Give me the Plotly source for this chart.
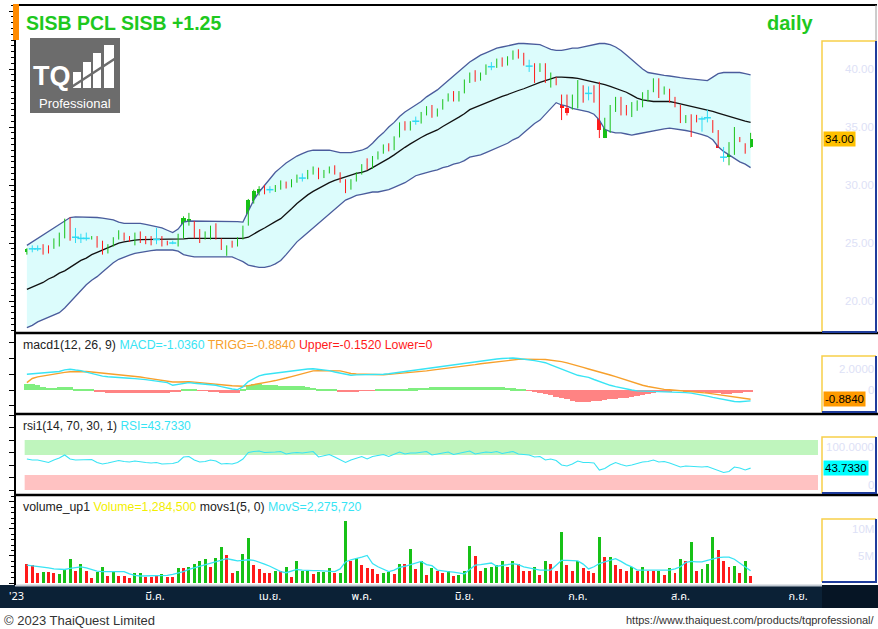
import plotly.graph_objects as go

W, H = 878, 629

# ---------------- data ----------------
open_ = [
    24.2, 24.5, 24.5, 24.6, 24.6, 24.6, 24.8, 25.5, 26.7, 25.5,
    25.4, 25.4, 25.3, 25.5, 25.1, 24.2, 24.8, 25.4, 25.8, 25.5,
    24.9, 25.9, 25.5, 25.5, 25.3, 25.5, 25.1, 25.0, 24.8, 25.5,
    26.6, 26.8, 26.1, 25.4, 25.4, 26.6, 25.3, 24.2, 25.0, 24.8,
    25.4, 26.6, 28.6, 29.3, 29.8, 29.6, 29.5, 29.8, 30.2, 29.9,
    30.3, 30.6, 30.6, 31.0, 31.4, 30.7, 31.1, 31.5, 31.0, 30.4,
    29.7, 30.4, 31.0, 32.0, 31.5, 32.3, 32.8, 33.5, 33.1, 34.2,
    35.3, 34.8, 35.5, 35.4, 36.1, 36.7, 36.0, 36.6, 37.3, 37.9,
    37.3, 38.0, 38.9, 39.7, 39.1, 39.6, 40.2, 40.2, 40.8, 40.4,
    40.9, 41.5, 41.2, 40.25, 40.3, 39.9, 39.9, 38.9, 39.3, 37.8,
    36.6, 36.6, 37.1, 38.6, 37.9, 38.0, 38.9, 34.05, 34.7, 36.3,
    37.5, 36.9, 36.0, 36.5, 36.8, 37.9, 38.0, 38.8, 37.9, 38.2,
    37.6, 36.9, 35.4, 36.0, 36.0, 35.7, 35.8, 35.6, 34.14, 32.4,
    32.4, 32.6, 34.14, 33.6, 33.3]
high_ = [
    24.55, 24.8, 24.8, 24.9, 24.8, 25.4, 25.9, 27.1, 27.2, 26.3,
    25.8, 25.9, 25.6, 25.6, 25.2, 24.9, 25.5, 26.1, 25.9, 25.6,
    25.9, 26.0, 25.6, 25.6, 26.3, 25.6, 25.2, 25.2, 25.8, 27.3,
    27.6, 26.9, 26.2, 26.0, 26.5, 26.7, 25.4, 24.8, 25.2, 25.5,
    26.5, 28.8, 29.6, 29.9, 30.0, 29.9, 30.0, 30.4, 30.3, 30.5,
    30.9, 31.0, 31.3, 31.6, 31.5, 31.3, 31.6, 31.7, 31.1, 30.5,
    30.5, 31.1, 31.8, 32.3, 32.5, 32.9, 33.5, 33.6, 34.2, 35.4,
    35.5, 35.5, 35.9, 36.3, 36.8, 36.9, 36.6, 37.4, 37.9, 38.1,
    38.1, 39.1, 39.7, 39.9, 39.7, 40.4, 40.6, 40.9, 41.0, 41.1,
    41.6, 41.7, 41.4, 40.8, 40.5, 40.5, 40.5, 39.7, 39.3, 37.8,
    37.8, 37.8, 39.05, 38.6, 38.5, 38.6, 38.9, 35.8, 36.9, 37.6,
    37.6, 36.9, 37.15, 37.3, 38.0, 38.2, 39.2, 39.2, 38.5, 38.3,
    37.6, 36.9, 36.03, 36.1, 36.05, 35.9, 36.5, 35.6, 34.74, 33.28,
    33.7, 35.0, 34.14, 33.6, 34.5]
low_ = [
    24.0, 24.2, 24.3, 24.0, 24.1, 24.5, 24.7, 25.4, 25.2, 25.0,
    25.0, 25.2, 25.3, 24.6, 24.0, 24.1, 24.7, 25.3, 25.2, 25.1,
    24.8, 25.0, 24.9, 24.8, 24.9, 24.7, 24.8, 24.9, 24.7, 25.4,
    26.5, 25.4, 25.0, 25.3, 25.3, 25.3, 24.4, 23.9, 24.6, 24.7,
    25.3, 26.5, 28.4, 29.1, 29.2, 29.3, 29.4, 29.6, 29.7, 29.8,
    30.2, 30.3, 30.5, 30.9, 30.5, 30.6, 31.0, 30.9, 30.2, 29.3,
    29.6, 30.3, 30.9, 31.3, 31.4, 32.2, 32.7, 32.9, 33.0, 34.1,
    34.7, 34.7, 35.2, 35.3, 36.0, 35.8, 35.9, 36.5, 37.2, 37.2,
    37.2, 37.9, 38.8, 38.9, 39.0, 39.5, 39.9, 40.1, 40.2, 40.3,
    40.8, 40.9, 40.3, 39.75, 38.8, 39.75, 38.8, 38.4, 38.6, 35.6,
    36.0, 36.5, 36.6, 37.1, 37.3, 37.1, 34.05, 34.05, 34.5, 36.3,
    36.0, 36.0, 35.86, 36.4, 36.7, 37.2, 38.0, 37.5, 37.8, 37.1,
    36.7, 35.34, 35.34, 34.14, 35.4, 34.6, 35.4, 34.5, 33.2, 32.0,
    31.7, 32.6, 33.7, 32.7, 33.2]
close_ = [
    24.5, 24.5, 24.5, 24.2, 24.1, 25.3, 25.7, 26.7, 25.5, 25.5,
    25.4, 25.4, 25.5, 24.7, 24.2, 24.8, 25.4, 25.9, 25.6, 25.3,
    25.6, 25.6, 25.0, 24.9, 25.3, 24.8, 24.9, 25.0, 25.7, 27.2,
    27.1, 25.5, 25.1, 25.9, 26.4, 25.4, 24.4, 24.6, 24.7, 25.4,
    26.4, 28.7, 29.5, 29.7, 29.5, 29.6, 29.9, 30.3, 29.8, 30.4,
    30.8, 30.6, 31.2, 31.5, 30.6, 31.2, 31.5, 31.0, 30.3, 29.6,
    30.4, 31.0, 31.7, 31.4, 32.4, 32.8, 33.4, 33.0, 34.1, 35.3,
    34.8, 35.4, 35.5, 36.2, 36.7, 35.9, 36.5, 37.3, 37.8, 37.3,
    38.0, 39.0, 39.6, 39.0, 39.6, 40.3, 40.2, 40.8, 40.3, 41.0,
    41.5, 41.0, 40.6, 40.25, 39.5, 40.3, 38.8, 39.5, 38.6, 36.6,
    36.2, 37.3, 38.8, 37.9, 37.9, 37.8, 34.75, 34.9, 36.7, 37.6,
    36.3, 36.0, 36.6, 37.15, 37.9, 38.0, 39.05, 38.0, 38.3, 37.6,
    36.7, 35.6, 35.9, 35.8, 35.5, 35.7, 35.8, 34.57, 33.2, 32.4,
    32.76, 34.9, 33.7, 32.75, 34.0]

bb_upper = [
    24.8, 25.1, 25.4, 25.7, 26.0, 26.3, 26.6, 26.9, 27.2, 27.25,
    27.25, 27.2, 27.2, 27.2, 27.15, 27.1, 27.0, 26.8, 26.7, 26.7,
    26.7, 26.7, 26.6, 26.5, 26.4, 26.3, 26.1, 25.9, 26.2, 26.8,
    26.9, 26.9, 26.9, 26.9, 26.9, 26.9, 26.9, 26.9, 26.9, 26.85,
    26.8, 27.8, 28.7, 29.4, 30.0, 30.6, 31.1, 31.5, 31.9, 32.2,
    32.5, 32.7, 32.9, 33.0, 33.0, 33.0, 33.0, 32.9, 32.8, 32.8,
    32.8, 32.9, 33.0, 33.2, 33.6, 34.1, 34.5, 35.0, 35.4, 35.9,
    36.3, 36.6, 36.9, 37.2, 37.6, 37.9, 38.2, 38.6, 39.0, 39.4,
    39.8, 40.2, 40.6, 40.9, 41.2, 41.4, 41.6, 41.8, 41.9, 42.0,
    42.1, 42.2, 42.2, 42.15, 42.1, 42.1, 41.9, 41.7, 41.6, 41.6,
    41.7, 41.8, 41.8, 41.9, 42.0, 42.15, 42.2, 42.2, 42.1, 41.9,
    41.6, 41.2, 40.8, 40.4, 40.0, 39.7, 39.6, 39.5, 39.45, 39.4,
    39.3, 39.25, 39.2, 39.15, 39.1, 39.05, 39.0, 39.3, 39.6, 39.7,
    39.7, 39.7, 39.7, 39.6, 39.5]
bb_mid = [
    21.0, 21.2, 21.4, 21.6, 21.9, 22.1, 22.4, 22.6, 22.9, 23.2,
    23.5, 23.7, 24.0, 24.2, 24.4, 24.6, 24.8, 25.0, 25.1, 25.2,
    25.25, 25.3, 25.3, 25.3, 25.3, 25.3, 25.3, 25.3, 25.3, 25.35,
    25.4, 25.4, 25.4, 25.4, 25.4, 25.4, 25.4, 25.4, 25.4, 25.4,
    25.4, 25.5, 25.8, 26.05, 26.3, 26.6, 26.85, 27.1, 27.5, 27.95,
    28.4, 28.8, 29.15, 29.45, 29.7, 30.0, 30.2, 30.4, 30.55, 30.75,
    30.85, 31.0, 31.1, 31.25, 31.5, 31.75, 32.0, 32.3, 32.6, 32.95,
    33.25, 33.55, 33.85, 34.1, 34.35, 34.55, 34.75, 35.05, 35.3, 35.6,
    35.85, 36.15, 36.5, 36.7, 36.9, 37.1, 37.3, 37.5, 37.65, 37.8,
    38.0, 38.15, 38.3, 38.5, 38.7, 38.85, 39.0, 39.15, 39.3, 39.3,
    39.3, 39.25, 39.2, 39.1, 39.0, 38.9, 38.8, 38.65, 38.5, 38.35,
    38.2, 38.0, 37.75, 37.5, 37.35, 37.25, 37.2, 37.2, 37.2, 37.2,
    37.1, 37.0, 36.9, 36.8, 36.7, 36.6, 36.5, 36.35, 36.2, 36.05,
    35.9, 35.8, 35.65, 35.5, 35.4]
bb_lower = [
    17.7, 17.9, 18.2, 18.4, 18.6, 18.8, 19.0, 19.4, 19.9, 20.4,
    20.9, 21.4, 21.8, 22.1, 22.5, 22.9, 23.3, 23.6, 23.8, 23.95,
    24.1, 24.2, 24.3, 24.35, 24.4, 24.4, 24.4, 24.4, 24.3, 24.0,
    23.9, 23.8, 23.8, 23.8, 23.8, 23.8, 23.8, 23.8, 23.8, 23.6,
    23.4, 23.1, 23.0, 22.9, 22.9, 23.0, 23.2, 23.5, 24.0, 24.6,
    25.1, 25.5, 25.9, 26.3, 26.7, 27.1, 27.5, 27.9, 28.3, 28.7,
    28.9, 29.1, 29.2, 29.3, 29.4, 29.4, 29.5, 29.6, 29.8, 30.0,
    30.2, 30.5, 30.8, 30.95, 31.1, 31.2, 31.3, 31.5, 31.6, 31.8,
    31.9, 32.1, 32.4, 32.5, 32.6, 32.8, 33.0, 33.2, 33.4, 33.6,
    33.9, 34.1, 34.5, 34.9, 35.3, 35.6, 36.1, 36.6, 37.1, 36.9,
    36.8, 36.6, 36.5, 36.4, 36.3, 36.1, 35.6, 34.8, 34.6, 34.5,
    34.5, 34.4, 34.3, 34.4, 34.5, 34.6, 34.7, 34.8, 34.85, 34.9,
    34.85, 34.8, 34.7, 34.6, 34.5, 34.35, 34.2, 33.9, 33.3, 32.9,
    32.6, 32.3, 32.0, 31.8, 31.5]

macd = [
    1.50, 1.54, 1.58, 1.62, 1.67, 1.72, 1.76, 1.92, 1.98, 1.90,
    1.85, 1.70, 1.55, 1.40, 1.32, 1.26, 1.21, 1.18, 1.15, 1.12,
    1.08, 1.06, 0.99, 0.92, 0.85, 0.77, 0.70, 0.45, 0.55, 0.66,
    0.70, 0.64, 0.60, 0.58, 0.55, 0.45, 0.32, 0.20, 0.10, 0.04,
    0.30, 0.80, 1.10, 1.35, 1.48, 1.55, 1.60, 1.66, 1.72, 1.78,
    1.84, 1.92, 2.00, 2.03, 1.98, 1.92, 1.85, 1.72, 1.62, 1.45,
    1.40, 1.44, 1.45, 1.44, 1.43, 1.46, 1.50, 1.55, 1.62, 1.69,
    1.76, 1.83, 1.90, 1.98, 2.06, 2.15, 2.24, 2.30, 2.37, 2.44,
    2.50, 2.58, 2.65, 2.72, 2.80, 2.85, 2.90, 2.95, 3.00, 3.03,
    3.05, 3.00, 2.95, 2.90, 2.80, 2.70, 2.60, 2.40, 2.20, 2.00,
    1.80, 1.60, 1.40, 1.30, 1.20, 1.00, 0.80, 0.60, 0.45, 0.32,
    0.20, 0.10, 0.00, -0.08, -0.10, -0.10, -0.08, -0.10, -0.12, -0.15,
    -0.18, -0.20, -0.25, -0.30, -0.38, -0.45, -0.58, -0.70, -0.80, -0.90,
    -1.00, -1.10, -1.12, -1.08, -1.036]
trigg = [
    0.70, 1.10, 1.25, 1.35, 1.44, 1.52, 1.60, 1.68, 1.74, 1.76,
    1.76, 1.76, 1.72, 1.67, 1.62, 1.58, 1.55, 1.49, 1.43, 1.36,
    1.30, 1.24, 1.16, 1.08, 1.00, 0.92, 0.84, 0.76, 0.77, 0.79,
    0.78, 0.75, 0.71, 0.68, 0.64, 0.58, 0.52, 0.46, 0.40, 0.35,
    0.36, 0.42, 0.50, 0.60, 0.70, 0.80, 0.90, 1.00, 1.14, 1.28,
    1.42, 1.56, 1.70, 1.82, 1.85, 1.85, 1.84, 1.83, 1.82, 1.70,
    1.57, 1.53, 1.50, 1.48, 1.47, 1.46, 1.45, 1.49, 1.53, 1.57,
    1.61, 1.65, 1.70, 1.76, 1.82, 1.89, 1.95, 2.00, 2.06, 2.12,
    2.20, 2.28, 2.35, 2.42, 2.50, 2.56, 2.62, 2.69, 2.75, 2.83,
    2.90, 2.92, 2.94, 2.95, 2.94, 2.92, 2.90, 2.84, 2.77, 2.70,
    2.58, 2.46, 2.30, 2.15, 2.00, 1.87, 1.73, 1.60, 1.43, 1.27,
    1.10, 0.93, 0.76, 0.58, 0.45, 0.33, 0.22, 0.10, 0.06, 0.02,
    -0.02, -0.05, -0.09, -0.13, -0.18, -0.22, -0.30, -0.37, -0.45, -0.53,
    -0.62, -0.70, -0.76, -0.82, -0.884]
macd_hist = [
    0.55, 0.55, 0.50, 0.25, 0.22, 0.20, 0.25, 0.27, 0.25, 0.12,
    0.08, 0.03, 0.02, -0.12, -0.20, -0.25, -0.28, -0.30, -0.30, -0.30,
    -0.28, -0.28, -0.28, -0.27, -0.27, -0.26, -0.25, -0.22, -0.10, 0.03,
    0.03, 0.03, -0.05, -0.05, -0.15, -0.22, -0.28, -0.30, -0.30, -0.28,
    0.10, 0.50, 0.55, 0.55, 0.50, 0.48, 0.45, 0.42, 0.40, 0.40,
    0.38, 0.35, 0.30, 0.22, 0.05, 0.04, 0.03, 0.02, -0.12, -0.18,
    -0.15, -0.10, -0.05, -0.05, -0.04, 0.02, 0.05, 0.08, 0.10, 0.12,
    0.14, 0.16, 0.18, 0.20, 0.22, 0.24, 0.26, 0.28, 0.30, 0.30,
    0.30, 0.30, 0.30, 0.29, 0.28, 0.27, 0.26, 0.25, 0.24, 0.20,
    0.15, 0.08, 0.01, -0.05, -0.15, -0.25, -0.35, -0.50, -0.65, -0.80,
    -0.90, -1.00, -1.10, -1.10, -1.10, -1.05, -1.00, -0.95, -0.90, -0.85,
    -0.80, -0.75, -0.70, -0.60, -0.50, -0.40, -0.30, -0.20, -0.15, -0.10,
    -0.05, -0.08, -0.12, -0.15, -0.18, -0.20, -0.25, -0.30, -0.30, -0.35,
    -0.35, -0.30, -0.25, -0.20, -0.152]

rsi = [
    62, 60, 60, 57, 55, 60, 64, 70, 62, 60,
    60, 60, 61, 55, 52, 54, 57, 59, 57, 56,
    58, 56, 55, 54, 55, 52, 52, 53, 56, 66,
    67, 60, 56, 57, 60, 58, 52, 53, 52, 55,
    62, 75, 77, 78, 75, 75, 76, 77, 72, 74,
    75, 74, 76, 77, 66, 69, 71, 66, 61, 55,
    60, 64, 67, 62, 67, 69, 71, 67, 72, 76,
    72, 74, 74, 76, 77, 70, 72, 74, 76, 71,
    73, 76, 78, 72, 74, 76, 75, 77, 73, 75,
    77, 72, 71, 70, 66, 67, 60, 62, 59, 50,
    48, 52, 58, 55, 55, 54, 40, 43, 50, 55,
    51, 48, 50, 53, 56, 57, 60, 56, 57, 54,
    50, 46, 48, 47, 46, 46, 47, 43, 38, 35,
    37, 46, 44, 40, 43.733]
rsi_levels = [70, 30]

volume_m = [
    3.5, 3.3, 1.8, 2.0, 2.0, 1.9, 1.7, 2.5, 4.4, 2.3,
    3.5, 2.3, 0.9, 2.1, 3.0, 1.3, 2.0, 1.3, 1.3, 0.9,
    1.8, 1.8, 1.1, 1.1, 1.3, 1.6, 1.1, 1.1, 2.8, 2.8,
    2.9, 3.5, 4.0, 4.4, 3.0, 4.7, 6.6, 5.2, 1.8, 2.3,
    5.4, 8.3, 3.3, 2.5, 1.8, 1.8, 2.3, 2.3, 3.0, 1.1,
    4.0, 2.3, 2.3, 1.6, 2.0, 2.0, 2.8, 1.8, 1.8, 11.4,
    4.0, 4.6, 3.3, 2.8, 2.5, 1.6, 1.8, 2.0, 1.6, 3.5,
    3.5, 6.3, 2.5, 4.0, 1.5, 2.8, 2.2, 1.9, 2.3, 1.3,
    1.5, 2.3, 6.85, 5.0, 2.3, 2.8, 3.0, 3.3, 4.0, 3.0,
    4.0, 3.6, 2.3, 2.3, 2.9, 1.5, 4.0, 3.6, 2.2, 9.5,
    3.3, 2.3, 4.0, 2.8, 2.3, 1.8, 8.6, 4.9, 4.9, 3.3,
    2.5, 2.2, 2.9, 2.2, 3.0, 2.3, 2.3, 2.3, 1.5, 2.8,
    1.8, 4.5, 4.0, 7.5, 2.2, 2.5, 3.5, 8.6, 6.2, 4.0,
    3.0, 3.1, 1.8, 4.0, 1.2845]
volume_dir = ("rrrgrrgggr" "grrggrgrrr" "ggrrrgrrgr" "ggggrggrrg" "ggrrrrgrgr"
              "gggrgggrgg" "rgrrrrggrg" "rgrgrgrrgr" "gggrrggggr" "grrrgrgrrg"
              "rrgrrrgrgr" "rrgrgrrgrg" "rgrgrgggrr" "rgrgr")
movs_m = [
    3.3, 3.2, 3.1, 3.0, 2.8, 2.6, 2.5, 2.5, 2.7, 2.9,
    3.0, 2.8, 2.5, 2.2, 2.1, 2.1, 2.1, 2.1, 2.1, 1.7,
    1.4, 1.3, 1.3, 1.3, 1.3, 1.3, 1.4, 1.6, 1.8, 2.1,
    2.5, 2.8, 3.0, 3.4, 3.7, 3.9, 4.2, 4.5, 4.3, 4.1,
    4.2, 4.3, 4.2, 3.9, 3.5, 3.1, 2.6, 2.1, 1.9, 2.2,
    2.5, 2.4, 2.3, 2.3, 2.3, 2.2, 2.1, 2.1, 2.6, 3.9,
    4.3, 4.5, 4.8, 5.1, 3.6, 3.0, 2.5, 2.1, 2.4, 2.9,
    3.1, 3.4, 3.8, 4.0, 3.4, 3.2, 2.4, 2.2, 2.1, 2.0,
    1.9, 1.7, 2.5, 3.3, 3.4, 3.5, 3.7, 3.1, 3.2, 3.4,
    3.6, 3.4, 3.0, 2.8, 2.6, 2.4, 2.4, 2.4, 3.3, 4.2,
    4.2, 4.1, 4.1, 3.5, 2.6, 3.0, 3.6, 3.9, 4.2, 4.5,
    4.0, 3.4, 3.0, 2.4, 2.4, 2.4, 2.4, 2.4, 2.4, 2.4,
    2.6, 3.0, 3.8, 4.0, 3.9, 3.9, 4.2, 4.5, 4.7, 4.8,
    4.8, 4.4, 3.7, 3.0, 2.27572]

month_pos = [-1.9, 23.7, 45, 62, 81, 102, 121, 142.8]
month_labels = ["'23", "มี.ค.", "เม.ย.", "พ.ค.", "มิ.ย.", "ก.ค.", "ส.ค.", "ก.ย."]
price_ticks = [20, 25, 30, 35, 40]
macd_ticks = [0, 2]
rsi_ticks = [100, 0]
vol_ticks = [5, 10]

# ---------------- style ----------------
SANS = "Liberation Sans, Arial, sans-serif"
THAI = "Noto Sans Thai, Tahoma, Liberation Sans, sans-serif"
GREEN, RED, CYAN = "#17c117", "#ff1a1a", "#2fdcf4"
BANDC = "#4a5c9c"
LAV = "#dde1f6"


def px_x(x):
    return x / W


def px_y(y):
    return 1 - y / H


def dom(top, bottom):
    return [1 - bottom / H, 1 - top / H]


N = len(close_)
idx = list(range(N))
fig = go.Figure()

# ---- main panel: Bollinger + candles ----
fig.add_trace(go.Scatter(x=idx, y=bb_lower, mode="lines", line=dict(color=BANDC, width=1.3),
                         xaxis="x", yaxis="y", hoverinfo="skip"))
fig.add_trace(go.Scatter(x=idx, y=bb_upper, mode="lines", line=dict(color=BANDC, width=1.3),
                         fill="tonexty", fillcolor="#dcfcfc", xaxis="x", yaxis="y", hoverinfo="skip"))
fig.add_trace(go.Scatter(x=idx, y=bb_mid, mode="lines", line=dict(color="#111111", width=1.3),
                         xaxis="x", yaxis="y", hoverinfo="skip"))

up = [i for i in idx if close_[i] > open_[i]]
dn = [i for i in idx if close_[i] < open_[i]]
dj = [i for i in idx if close_[i] == open_[i]]

for ids, col in [(up, GREEN), (dn, RED), (dj, CYAN)]:
    xs, ys = [], []
    for i in ids:
        xs += [i, i, None]
        ys += [low_[i], high_[i], None]
    fig.add_trace(go.Scatter(x=xs, y=ys, mode="lines", line=dict(color=col, width=1),
                             xaxis="x", yaxis="y", hoverinfo="skip"))
for ids, col in [(up, GREEN), (dn, RED)]:
    fig.add_trace(go.Bar(x=ids, y=[abs(close_[i] - open_[i]) for i in ids],
                         base=[min(open_[i], close_[i]) for i in ids], width=0.75,
                         marker=dict(color=col, line=dict(width=0)), xaxis="x", yaxis="y",
                         hoverinfo="skip"))
fig.add_trace(go.Scatter(x=dj, y=[close_[i] for i in dj], mode="markers",
                         marker=dict(symbol="line-ew", size=5, line=dict(color=CYAN, width=1.5)),
                         xaxis="x", yaxis="y", hoverinfo="skip"))

# ---- MACD panel ----
fig.add_trace(go.Bar(x=idx, y=macd_hist, width=1.0,
                     marker=dict(color=["#80ee80" if v >= 0 else "#ff8383" for v in macd_hist],
                                 line=dict(width=0)),
                     xaxis="x2", yaxis="y2", hoverinfo="skip"))
fig.add_trace(go.Scatter(x=idx, y=trigg, mode="lines", line=dict(color="#f7a02c", width=1.4),
                         xaxis="x2", yaxis="y2", hoverinfo="skip"))
fig.add_trace(go.Scatter(x=idx, y=macd, mode="lines", line=dict(color="#38e4f4", width=1.4),
                         xaxis="x2", yaxis="y2", hoverinfo="skip"))

# ---- RSI panel ----
fig.add_trace(go.Scatter(x=idx, y=rsi, mode="lines", line=dict(color="#38e4f4", width=1.1),
                         xaxis="x3", yaxis="y3", hoverinfo="skip"))

# ---- Volume panel ----
fig.add_trace(go.Bar(x=idx, y=volume_m, width=0.55,
                     marker=dict(color=[GREEN if c == "g" else RED for c in volume_dir],
                                 line=dict(width=0)),
                     xaxis="x4", yaxis="y4", hoverinfo="skip"))
fig.add_trace(go.Scatter(x=idx, y=movs_m, mode="lines", line=dict(color="#38e4f4", width=1.3),
                         xaxis="x4", yaxis="y4", hoverinfo="skip"))

# ---------------- axes ----------------
XD = [px_x(15), px_x(820)]
XR = [-2.2, 146.85]
xbase = dict(domain=XD, showgrid=False, zeroline=False, showline=False, ticks="",
             showticklabels=False)
panels = {
    "": dict(dom=dom(5, 332), rng=[17.33, 45.52], dt=5, mdt=0.5, top=42.6),
    "2": dict(dom=dom(335, 413), rng=[-2.19, 5.24], dt=1.5, mdt=None, top=3.2),
    "3": dict(dom=dom(415, 494), rng=[-8, 150], dt=25, mdt=None, top=104),
    "4": dict(dom=dom(496, 585), rng=[-0.37, 16.1], dt=5, mdt=1, top=11.8),
}
layout = dict(width=W, height=H, margin=dict(l=0, r=0, t=0, b=0), template="none",
              paper_bgcolor="white", plot_bgcolor="white", showlegend=False, barmode="overlay",
              bargap=0)
layout["xaxis"] = dict(xbase, range=XR, anchor="y")
layout["xaxis2"] = dict(xbase, matches="x", anchor="y2")
layout["xaxis3"] = dict(xbase, matches="x", anchor="y3")
layout["xaxis4"] = dict(xbase, matches="x", anchor="y4", showticklabels=True,
                        tickmode="array", tickvals=month_pos, ticktext=month_labels,
                        tickfont=dict(color="white", size=11, family=THAI), ticklabelstandoff=3)
over_ids = {"": "5", "2": "6", "3": "7", "4": "8"}
for k, p in panels.items():
    left = dict(domain=p["dom"], range=p["rng"], anchor="x" + k, side="left",
                showgrid=False, zeroline=False, showline=False, showticklabels=False,
                ticks="outside", ticklen=5, tickcolor="black", tick0=0, dtick=p["dt"])
    if p["mdt"]:
        left["minor"] = dict(ticks="outside", ticklen=3, tickcolor="black", dtick=p["mdt"], tick0=0)
    layout["yaxis" + k] = left
    lo = p["rng"][0]
    step = p["mdt"] if p["mdt"] else p["dt"] / 3
    vals = []
    v = 0.0
    while v > lo:
        v -= step
    while v <= p["top"]:
        if v >= lo:
            vals.append(round(v, 4))
        v += step
    layout["yaxis" + over_ids[k]] = dict(domain=p["dom"], range=p["rng"], anchor="x" + k,
                                         overlaying="y" + k, side="right", showgrid=False,
                                         zeroline=False, showline=False, showticklabels=False,
                                         ticks="inside", ticklen=3, tickcolor="#333333",
                                         tickmode="array", tickvals=vals)
fig.update_layout(**layout)

# ---------------- shapes ----------------
shapes = []


def line(x0, y0, x1, y1, color, width, layer="above"):
    shapes.append(dict(type="line", xref="paper", yref="paper", x0=px_x(x0), y0=px_y(y0),
                       x1=px_x(x1), y1=px_y(y1), line=dict(color=color, width=width), layer=layer))


def rect(x0, y0, x1, y1, fill, layer="above"):
    shapes.append(dict(type="rect", xref="paper", yref="paper", x0=px_x(x0), y0=px_y(y0),
                       x1=px_x(x1), y1=px_y(y1), fillcolor=fill, line=dict(width=0), layer=layer))


# RSI zones
for lv, col in [(rsi_levels[0], "#bff5bd"), (rsi_levels[1], "#ffc2c2")]:
    y0, y1 = (lv, 100) if lv >= 50 else (0, lv)
    shapes.append(dict(type="rect", xref="x3 domain", yref="y3", x0=0.012, x1=0.9975, y0=y0, y1=y1,
                       fillcolor=col, line=dict(width=0), layer="below"))

# date band (below so that tick labels show on top)
rect(0, 585, 878, 608, "#0b2136", layer="below")
rect(822, 585, 878, 608, "#061525", layer="below")
line(15, 585.5, 822, 585.5, "#c3cbd3", 2)
# frame
line(15, 5, 877, 5, "black", 2)
line(15, 40, 15, 585, "black", 2)
rect(13, 4, 19, 40, "#ff8a00")
for y in (333, 414, 495):
    line(15, y, 878, y, "black", 2.5)
line(876, 5, 876, 41, "#9a9a9a", 1)
# right value boxes
for top, bottom in [(41, 332), (356, 412), (437, 493), (519, 582)]:
    shapes.append(dict(type="path", xref="paper", yref="paper",
                       path=f"M {px_x(822)},{px_y(bottom)} L {px_x(822)},{px_y(top)} L {px_x(876)},{px_y(top)}",
                       line=dict(color="#f8cf4a", width=1.5)))
    shapes.append(dict(type="path", xref="paper", yref="paper",
                       path=f"M {px_x(876)},{px_y(top)} L {px_x(876)},{px_y(bottom)} L {px_x(822)},{px_y(bottom)}",
                       line=dict(color="#1f3c9c", width=2)))
# logo
rect(30, 38, 120, 113, "#6c6c6c")
for x0, y0 in [(73, 72), (83, 62), (93, 53), (104, 45)]:
    rect(x0, y0, x0 + 8 if x0 < 104 else x0 + 10, 88, "white")
line(70, 88, 116, 58, "#6c6c6c", 2.5)

fig.update_layout(shapes=shapes)

# ---------------- annotations ----------------
ann = []


def text(x, y, s, size, color, family=SANS, xanchor="left", **kw):
    ann.append(dict(x=px_x(x), y=px_y(y), xref="paper", yref="paper", text=s, showarrow=False,
                    xanchor=xanchor, yanchor="middle", font=dict(size=size, color=color, family=family),
                    **kw))


chg = close_[-1] - close_[-2]
text(24, 23, f"<b>SISB PCL SISB {chg:+.2f}</b>", 19.5, "#1ec81e")
text(815, 23, "<b>daily</b>", 20, "#1ec81e", xanchor="right")
text(52, 76, "<b>TQ</b>", 27, "white", xanchor="center")
text(75, 103, "Professional", 13, "white", xanchor="center")

text(21, 345,
     "macd1(12, 26, 9) "
     f"<span style='color:#38e4f4'>MACD={macd[-1]:.4f}</span> "
     f"<span style='color:#f7a02c'>TRIGG={trigg[-1]:.4f}</span> "
     f"<span style='color:#ff1a1a'>Upper={macd_hist[-1]:.4f} Lower=0</span>",
     12.3, "#222222")
text(21, 426, f"rsi1(14, {rsi_levels[0]}, {rsi_levels[1]}, 1) "
              f"<span style='color:#38e4f4'>RSI={rsi[-1]:.4f}</span>", 12, "#222222")
text(21, 507,
     "volume_up1 "
     f"<span style='color:#f2ee00'>Volume={int(round(volume_m[-1] * 1e6)):,}</span> "
     "movs1(5, 0) "
     f"<span style='color:#38e4f4'>MovS={int(round(movs_m[-1] * 1e6)):,}</span>",
     12.3, "#222222")

# right scale labels
RL = dict(size=11.5, color=LAV, family=SANS)
for v in price_ticks:
    ann.append(dict(x=px_x(876), xref="paper", y=v, yref="y", text=f"{v:.2f}", showarrow=False,
                    xanchor="right", yanchor="middle", font=RL))
for v in macd_ticks:
    ann.append(dict(x=px_x(876), xref="paper", y=v, yref="y2",
                    text="0" if v == 0 else f"{v:.4f}", showarrow=False,
                    xanchor="right", yanchor="middle", font=RL))
for v in rsi_ticks:
    ann.append(dict(x=px_x(876), xref="paper", y=v, yref="y3",
                    text="0" if v == 0 else f"{v:.4f}", showarrow=False, yshift=(-7 if v else 5),
                    xanchor="right", yanchor="middle", font=RL))
for v in vol_ticks:
    ann.append(dict(x=px_x(876), xref="paper", y=v, yref="y4", text=f"{v}M", showarrow=False,
                    xanchor="right", yanchor="middle", font=RL))

# last-value tags
for val, fmt, yref, bg in [(close_[-1], "{:.2f}", "y", "#ffc000"),
                           (trigg[-1], "{:.4f}", "y2", "#ff9a00"),
                           (rsi[-1], "{:.4f}", "y3", "#00ffff")]:
    ann.append(dict(x=px_x(823), xref="paper", y=val, yref=yref, text=fmt.format(val),
                    showarrow=False, xanchor="left", yanchor="middle", bgcolor=bg, borderpad=1,
                    font=dict(size=11.5, color="black", family=SANS)))

# footer
text(2, 620, "© 2023 ThaiQuest Limited", 13, "#333333")
text(877, 620, "https://www.thaiquest.com/products/tqprofessional/", 11, "#333333",
     xanchor="right")

fig.update_layout(annotations=ann)
fig.write_html("out.html", config={"displayModeBar": False},
               post_script="document.body.style.margin='0px';document.body.style.overflow='hidden';")
